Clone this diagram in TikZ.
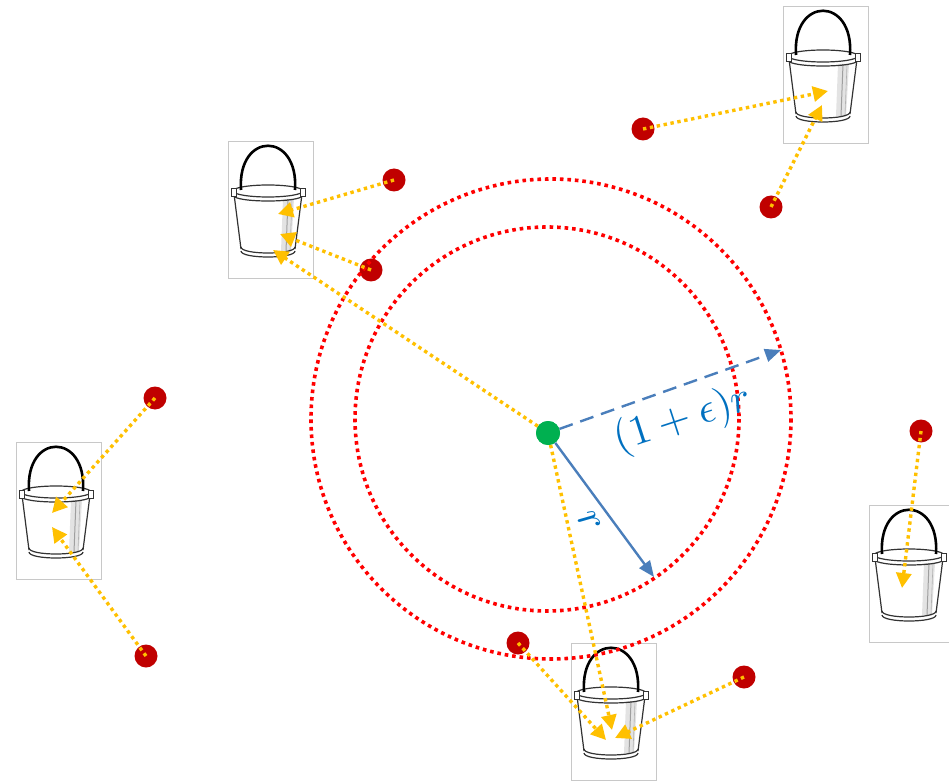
\documentclass[tikz,border=0pt]{standalone}
\usetikzlibrary{arrows.meta}
\definecolor{dotred}{RGB}{192,0,0}
\definecolor{ringred}{RGB}{255,0,0}
\definecolor{amber}{RGB}{255,192,0}
\definecolor{steel}{RGB}{74,126,187}
\definecolor{labelblue}{RGB}{0,112,192}
\definecolor{framegray}{RGB}{200,200,200}
\definecolor{seedgreen}{RGB}{0,176,80}
\tikzset{
  point/.style={circle, fill=dotred, minimum size=23pt, inner sep=0pt},
  centre/.style={circle, fill=seedgreen, minimum size=24pt, inner sep=0pt},
  ring/.style={ringred, line width=3.6pt, dash pattern=on 3.6pt off 3.9pt},
  pour/.style={amber, line width=3.4pt, dash pattern=on 3.4pt off 3.6pt,
    -{Triangle[length=15pt,width=15pt]}},
  radius arrow/.style={steel, line width=2.4pt, -{Triangle[length=16pt,width=13pt]}},
  radius label/.style={labelblue, scale=4.2, inner sep=0pt},
  pail/.style={black!80, line width=1.2pt},
  bucket/.pic={
    \draw[framegray, line width=0.8pt] (0,0) rectangle (85,137);
    % shading on the right of the body
    \fill[gray!22] (55,58) -- (66,58) -- (63,110) -- (53,110) -- cycle;
    \draw[gray!75, line width=1pt] (60,58) -- (58,110);
    \draw[gray!60, line width=0.6pt] (64,58) -- (62,109);
    % body sides
    \draw[pail] (6,53) -- (13,108);
    \draw[pail] (74,53) -- (67,108);
    % bottom band
    \draw[pail] (13,106) .. controls (13,114) and (67,114) .. (67,106);
    \draw[pail] (13,110) .. controls (13,118) and (67,118) .. (67,110);
    % rim
    \draw[pail] (40,50) ellipse [x radius=35, y radius=6];
    \draw[pail] (5,54) .. controls (5,62) and (75,62) .. (75,54);
    % handle
    \draw[black, line width=2.6pt] (13,49) .. controls (9,-10) and (71,-10) .. (67,49);
    % ears
    \draw[pail, line width=1pt, fill=white] (3,48) rectangle (8,56);
    \draw[pail, line width=1pt, fill=white] (72,48) rectangle (77,56);
  }
}
\begin{document}
\begin{tikzpicture}[x=1pt, y=-1pt]
\useasboundingbox (0,0) rectangle (949,783);

% buckets
\pic at (228,141) {bucket};
\pic at (783,6) {bucket};
\pic at (16,442) {bucket};
\pic at (869,505) {bucket};
\pic at (571,643) {bucket};

% points
\node[point] (d1) at (394,180) {};
\node[point] (d2) at (371,270) {};
\node[point] (d3) at (643,129) {};
\node[point] (d4) at (771,207) {};
\node[point] (d5) at (155,398) {};
\node[point] (d6) at (146,656) {};
\node[point] (d7) at (921,431) {};
\node[point] (d8) at (518,643) {};
\node[point] (d9) at (744,677) {};

% rings of radius r and (1+eps) r
\coordinate (ringin) at (547,419);
\coordinate (ringout) at (551,419);
\draw[ring] (ringin) circle[radius=192];
\draw[ring] (ringout) circle[radius=240];

% centre
\node[centre] (c) at (548,433) {};

% arrow tips inside the buckets
\coordinate (t1) at (278,214);
\coordinate (t2) at (280,234);
\coordinate (t3) at (273,250);
\coordinate (t4) at (828,91);
\coordinate (t5) at (822,105);
\coordinate (t6) at (52,513);
\coordinate (t7) at (52,527);
\coordinate (t8) at (902,588);
\coordinate (t9) at (606,740);
\coordinate (t10) at (612,730);
\coordinate (t11) at (615,738);

% assignments
\draw[pour] (d1.center) -- (t1);
\draw[pour] (d2.center) -- (t2);
\draw[pour] (c) -- (t3);
\draw[pour] (d3.center) -- (t4);
\draw[pour] (d4.center) -- (t5);
\draw[pour] (d5.center) -- (t6);
\draw[pour] (d6.center) -- (t7);
\draw[pour] (d7.center) -- (t8);
\draw[pour] (d8.center) -- (t9);
\draw[pour] (c) -- (t10);
\draw[pour] (d9.center) -- (t11);

% radii
\coordinate (e1) at (781,350);
\coordinate (e2) at (654,577);
\draw[radius arrow, dash pattern=on 14pt off 8pt] (c) -- (e1);
\draw[radius arrow] (c) -- (e2);
\node[centre] at (c) {};

\node[radius label, rotate=18] (lout) at (683,420) {$(1+\epsilon)r$};
\node[radius label, rotate=-60] (lin) at (589,522) {$r$};
\end{tikzpicture}
\end{document}
